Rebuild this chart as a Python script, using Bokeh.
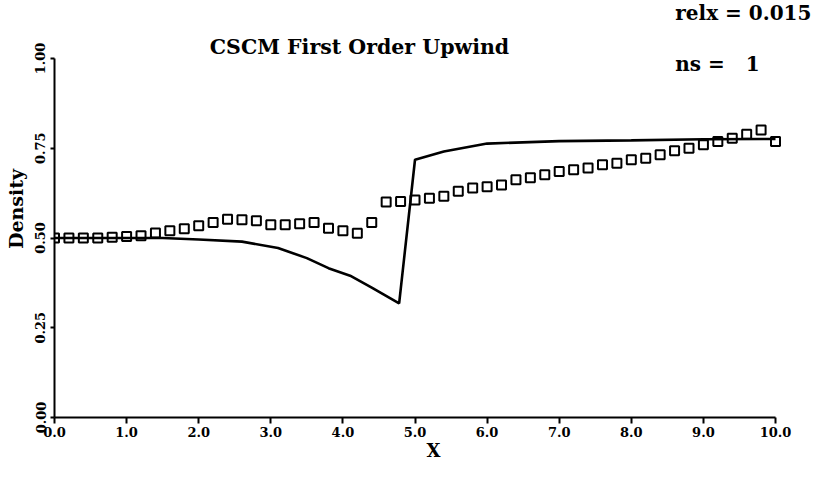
from bokeh.plotting import figure
from bokeh.models import Range1d, FixedTicker, Label, NumeralTickFormatter
from bokeh.embed import file_html
from bokeh.resources import INLINE

# ---- data ----
square_x = [0.0, 0.2, 0.4, 0.6, 0.8, 1.0, 1.2, 1.4, 1.6, 1.8,
            2.0, 2.2, 2.4, 2.6, 2.8, 3.0, 3.2, 3.4, 3.6, 3.8,
            4.0, 4.2, 4.4, 4.6, 4.8, 5.0, 5.2, 5.4, 5.6, 5.8,
            6.0, 6.2, 6.4, 6.6, 6.8, 7.0, 7.2, 7.4, 7.6, 7.8,
            8.0, 8.2, 8.4, 8.6, 8.8, 9.0, 9.2, 9.4, 9.6, 9.8, 10.0]
square_density = [0.500, 0.500, 0.500, 0.500, 0.502, 0.504, 0.506, 0.514, 0.520, 0.526,
                  0.534, 0.543, 0.552, 0.551, 0.548, 0.537, 0.537, 0.540, 0.543, 0.527,
                  0.520, 0.513, 0.543, 0.600, 0.602, 0.606, 0.611, 0.616, 0.630, 0.639,
                  0.643, 0.648, 0.662, 0.668, 0.676, 0.685, 0.690, 0.695, 0.704, 0.708,
                  0.718, 0.722, 0.732, 0.743, 0.750, 0.760, 0.769, 0.778, 0.789, 0.801, 0.769]

line_x = [0.0, 0.5, 1.0, 1.5, 2.0, 2.6, 3.1, 3.5, 3.8, 4.1, 4.4, 4.78,
          5.0, 5.4, 6.0, 7.0, 8.0, 9.0, 10.0]
line_density = [0.500, 0.500, 0.500, 0.500, 0.496, 0.490, 0.472, 0.444, 0.416, 0.395, 0.362, 0.318,
                0.718, 0.741, 0.763, 0.770, 0.772, 0.775, 0.776]

x_ticks = [0, 1, 2, 3, 4, 5, 6, 7, 8, 9, 10]
y_ticks = [0.0, 0.25, 0.5, 0.75, 1.0]

title_text = "CSCM First Order Upwind"
relx_text = "relx =\u00a00.015"
ns_text = "ns =\u00a0\u00a0 1"
x_label = "X"
y_label = "Density"

FONT = "DejaVu Serif"

p = figure(width=815, height=463, output_backend="svg", toolbar_location=None,
           x_range=Range1d(0, 10.513), y_range=Range1d(0, 1.1616),
           min_border_left=54, min_border_right=3, min_border_top=0, min_border_bottom=46)
p.grid.visible = False
p.outline_line_color = None
p.background_fill_color = "white"
p.border_fill_color = "white"

p.line(line_x, line_density, line_color="black", line_width=2.6)
p.scatter(square_x, square_density, marker="square", size=9, fill_color=None,
          line_color="black", line_width=2)

for ax in (p.xaxis[0], p.yaxis[0]):
    ax.axis_line_color = "black"
    ax.axis_line_width = 2
    ax.major_tick_line_color = "black"
    ax.major_tick_line_width = 2
    ax.major_tick_in = 0
    ax.minor_tick_line_color = None
    ax.major_label_text_font = FONT
    ax.major_label_text_font_style = "bold"
    ax.major_label_text_font_size = "13px"
    ax.major_label_text_color = "black"
    ax.axis_label_text_font = FONT
    ax.axis_label_text_font_style = "bold"
    ax.axis_label_text_color = "black"

p.xaxis.bounds = (0, 10)
p.xaxis.ticker = FixedTicker(ticks=x_ticks)
p.xaxis.formatter = NumeralTickFormatter(format="0.0")
p.xaxis.major_tick_out = 6
p.xaxis.major_label_standoff = 3
p.xaxis.axis_label = x_label
p.xaxis.axis_label_standoff = 0
p.xaxis.axis_label_text_font_size = "18px"

p.yaxis.bounds = (0, 1)
p.yaxis.ticker = FixedTicker(ticks=y_ticks)
p.yaxis.formatter = NumeralTickFormatter(format="0.00")
p.yaxis.major_tick_out = 4
p.yaxis.major_label_standoff = 5
p.yaxis.major_label_orientation = "parallel"
p.yaxis.axis_label = y_label
p.yaxis.axis_label_standoff = 6
p.yaxis.axis_label_text_font_size = "19px"

p.add_layout(Label(x=4.23, y=1.033, text=title_text, text_font=FONT, text_font_style="bold",
                   text_font_size="20.5px", text_color="black", text_align="center",
                   text_baseline="alphabetic"))
p.add_layout(Label(x=8.61, y=1.126, text=relx_text, text_font=FONT, text_font_style="bold",
                   text_font_size="20px", text_color="black", text_align="left",
                   text_baseline="middle"))
p.add_layout(Label(x=8.61, y=0.985, text=ns_text, text_font=FONT, text_font_style="bold",
                   text_font_size="20px", text_color="black", text_align="left",
                   text_baseline="middle"))

open("out.html", "w").write(file_html(p, INLINE))
